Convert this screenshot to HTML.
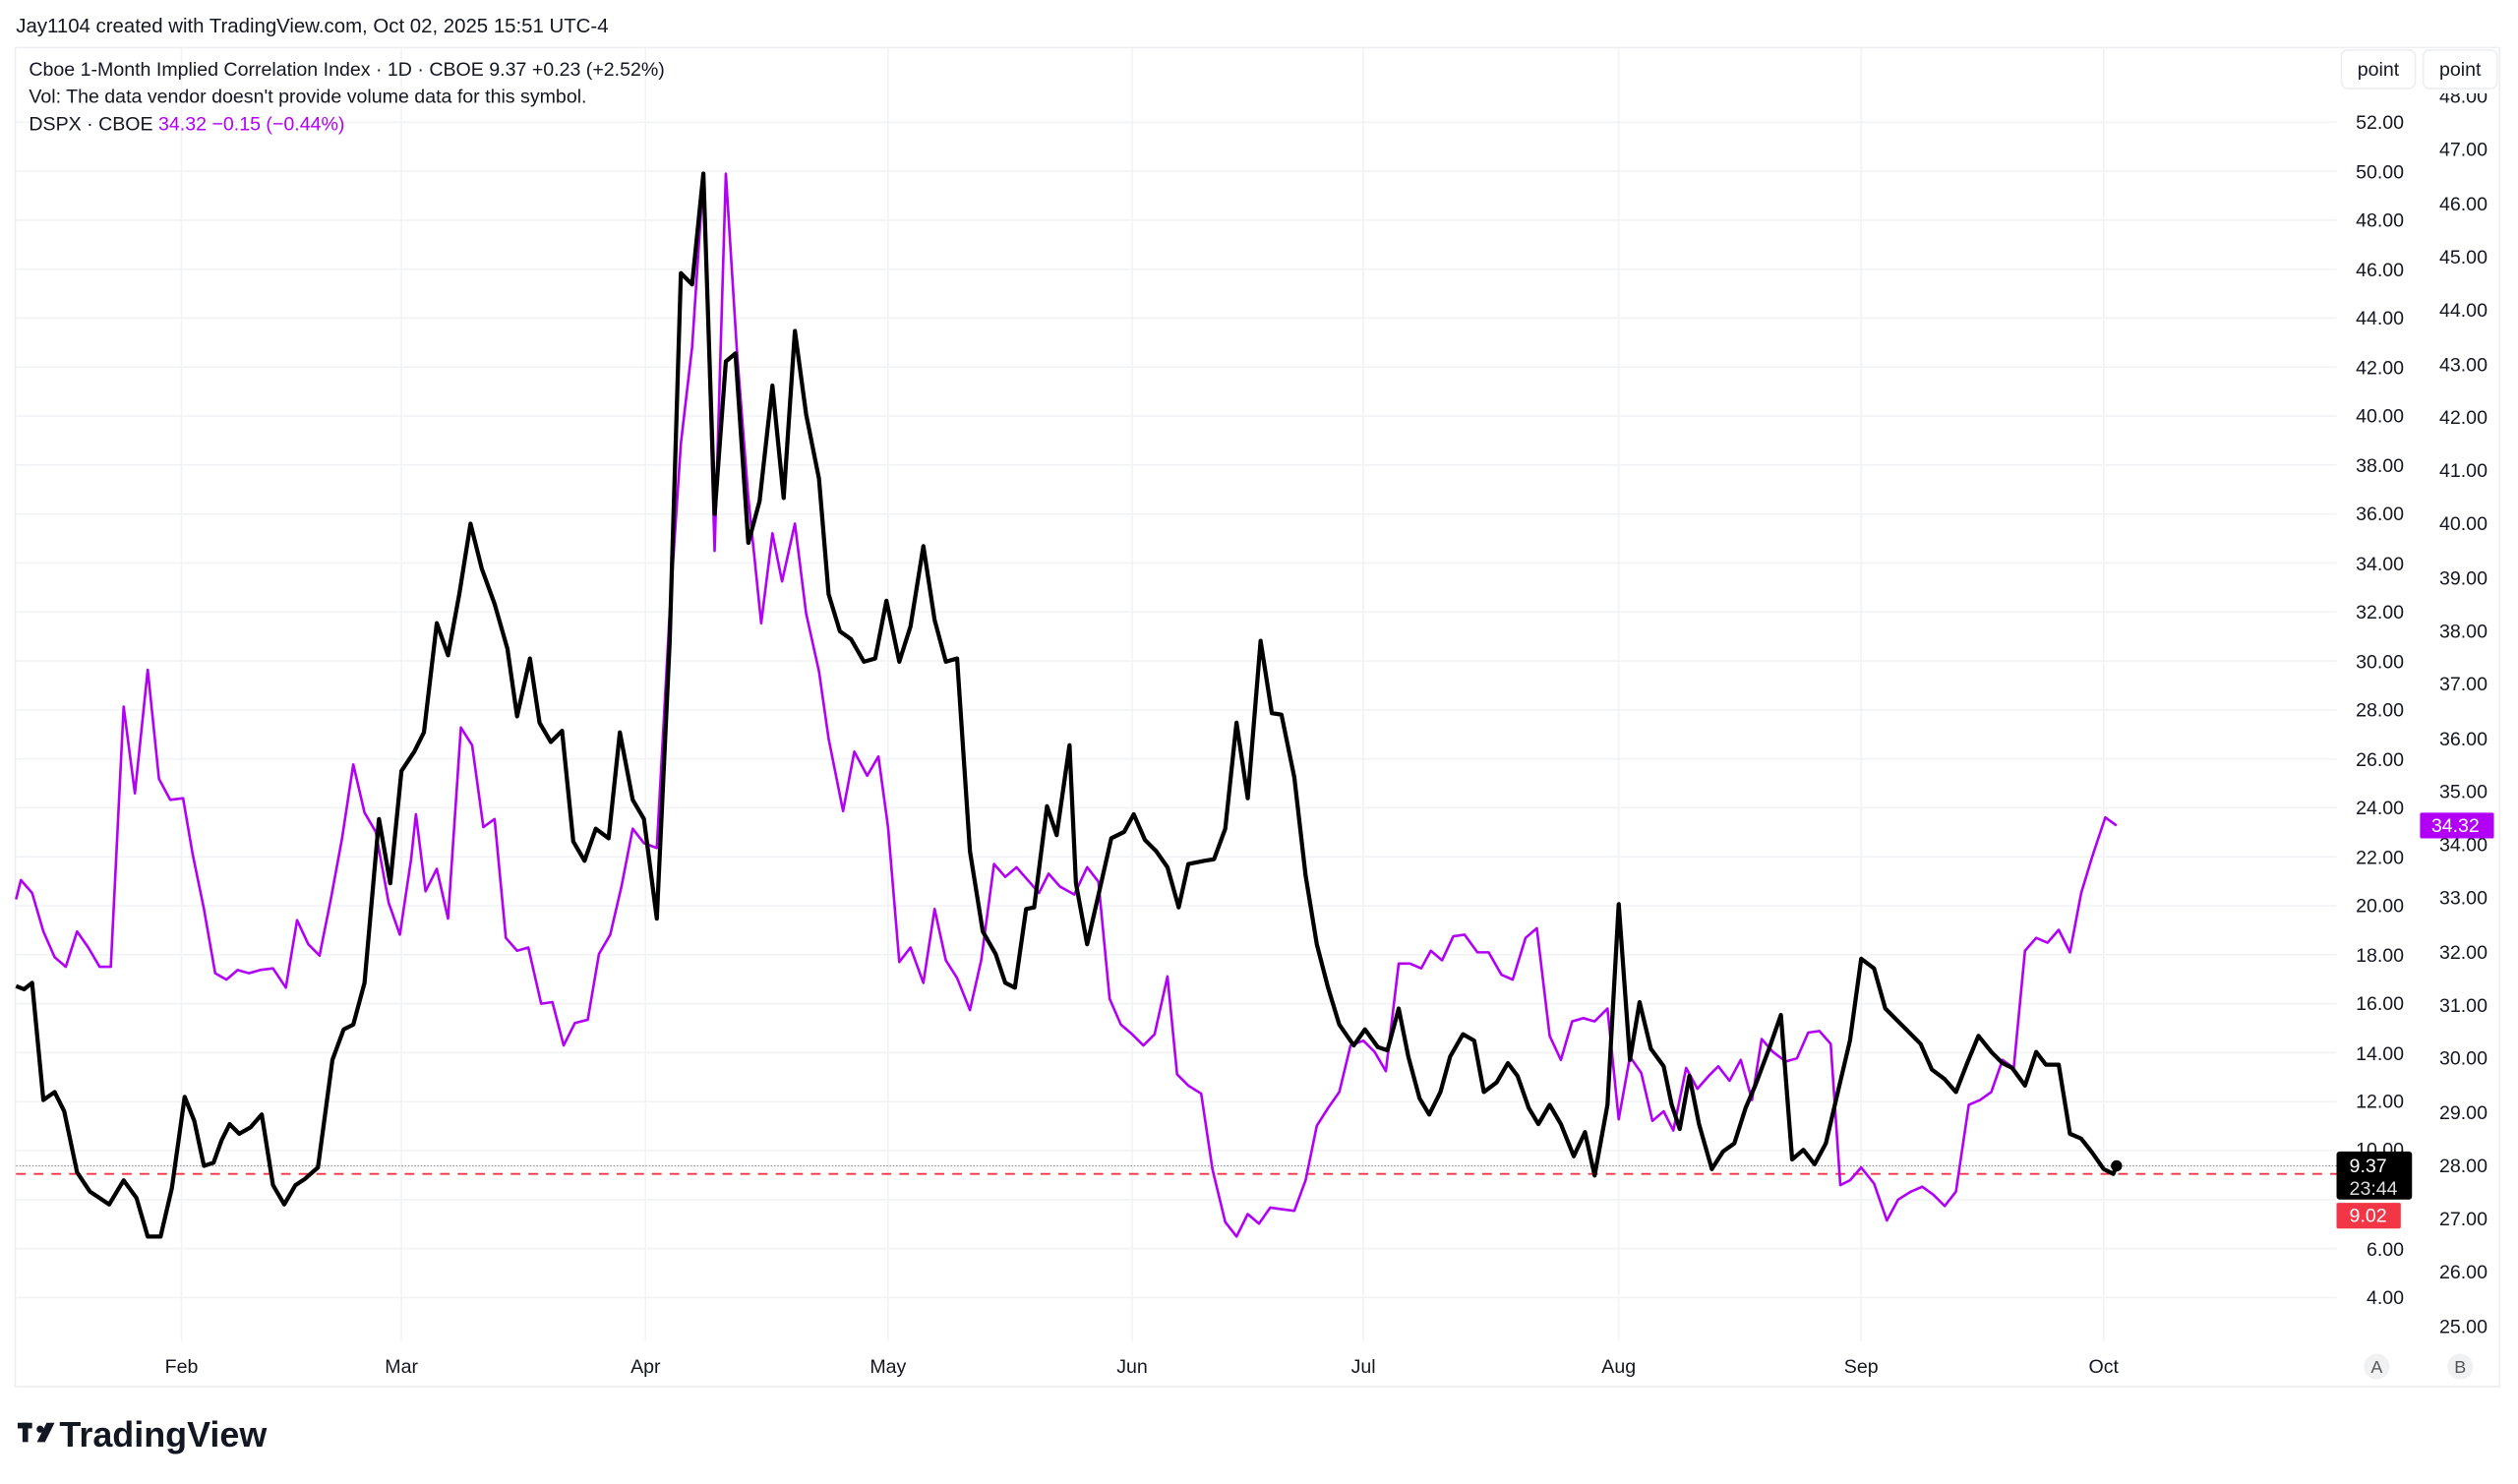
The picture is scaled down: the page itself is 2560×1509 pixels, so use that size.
<!DOCTYPE html>
<html><head><meta charset="utf-8"><style>
html,body{margin:0;padding:0;background:#fff;}
svg{display:block;font-family:"Liberation Sans",sans-serif;}
</style></head><body>
<svg width="2560" height="1509" viewBox="0 0 1568 924" xmlns="http://www.w3.org/2000/svg">
<rect width="1568" height="924" fill="#fff"/>
<text x="10" y="20" font-size="12.5" fill="#131722">Jay1104 created with TradingView.com, Oct 02, 2025 15:51 UTC-4</text>
<rect x="9.5" y="29.5" width="1547" height="834" fill="none" stroke="#eceef2"/>
<g stroke="#f2f3f5" stroke-width="1">
<line x1="10" x2="1455" y1="76" y2="76"/><line x1="10" x2="1455" y1="106.5" y2="106.5"/><line x1="10" x2="1455" y1="137" y2="137"/><line x1="10" x2="1455" y1="167.5" y2="167.5"/><line x1="10" x2="1455" y1="198" y2="198"/><line x1="10" x2="1455" y1="228.5" y2="228.5"/><line x1="10" x2="1455" y1="259" y2="259"/><line x1="10" x2="1455" y1="289.5" y2="289.5"/><line x1="10" x2="1455" y1="320" y2="320"/><line x1="10" x2="1455" y1="350.5" y2="350.5"/><line x1="10" x2="1455" y1="381" y2="381"/><line x1="10" x2="1455" y1="411.5" y2="411.5"/><line x1="10" x2="1455" y1="442" y2="442"/><line x1="10" x2="1455" y1="472.5" y2="472.5"/><line x1="10" x2="1455" y1="503" y2="503"/><line x1="10" x2="1455" y1="533.5" y2="533.5"/><line x1="10" x2="1455" y1="564" y2="564"/><line x1="10" x2="1455" y1="594.5" y2="594.5"/><line x1="10" x2="1455" y1="625" y2="625"/><line x1="10" x2="1455" y1="655.5" y2="655.5"/><line x1="10" x2="1455" y1="686" y2="686"/><line x1="10" x2="1455" y1="716.5" y2="716.5"/><line x1="10" x2="1455" y1="747" y2="747"/><line x1="10" x2="1455" y1="777.5" y2="777.5"/><line x1="10" x2="1455" y1="808" y2="808"/>
<line y1="30" y2="835" x1="113" x2="113"/><line y1="30" y2="835" x1="250" x2="250"/><line y1="30" y2="835" x1="402" x2="402"/><line y1="30" y2="835" x1="553" x2="553"/><line y1="30" y2="835" x1="705" x2="705"/><line y1="30" y2="835" x1="849" x2="849"/><line y1="30" y2="835" x1="1008" x2="1008"/><line y1="30" y2="835" x1="1159" x2="1159"/><line y1="30" y2="835" x1="1310" x2="1310"/>
</g>
<text x="18" y="47" font-size="12" fill="#131722">Cboe 1-Month Implied Correlation Index · 1D · CBOE  9.37  +0.23 (+2.52%)</text>
<text x="18" y="64" font-size="12" fill="#131722">Vol: The data vendor doesn't provide volume data for this symbol.</text>
<text x="18" y="81" font-size="12" fill="#131722">DSPX · CBOE  <tspan fill="#b100f5">34.32  −0.15 (−0.44%)</tspan></text>
<line x1="10" x2="1455" y1="726" y2="726" stroke="#9598a1" stroke-dasharray="1,1" stroke-width="0.8"/>
<line x1="10" x2="1455" y1="731" y2="731" stroke="#f23645" stroke-dasharray="6,5" stroke-width="1.2"/>
<polyline fill="none" stroke="#b100f5" stroke-width="1.6" stroke-linejoin="round" points="10,560 13,548 20,556 27,580 34,596 41,602 48,580 55,590 62,602 69,602 77,440 84,494 92,417 99,485 106,498 114,497 120,532 127,566 134,606 141,610 148,604 155,606 162,604 170,603 178,615 185,573 192,588 199,595 206,560 213,522 220,476 227,506 234,518 242,562 249,582 256,535 259,507 265,555 272,541 279,572 287,453 294,464 301,515 308,510 315,584 322,592 329,590 337,625 344,624 351,651 358,637 366,635 373,594 380,582 387,552 394,516 401,525 409,528 417,382 424,276 431,216 438,110 445,343 452,108 459,220 466,310 474,388 481,332 487,362 495,326 502,382 510,418 516,460 525,505 532,468 540,483 547,471 553,515 560,599 567,590 575,612 582,566 589,598 596,609 604,629 611,598 619,538 626,546 633,540 640,548 647,556 653,544 660,552 669,557 677,540 684,549 691,622 698,638 705,644 712,651 719,644 727,608 733,669 740,676 748,681 755,728 763,761 770,770 777,756 784,762 791,752 798,753 806,754 813,735 820,701 827,690 834,680 841,651 849,648 856,655 863,667 871,600 878,600 885,603 891,592 898,598 905,583 912,582 920,593 927,593 935,607 942,610 950,584 957,578 965,645 972,660 979,636 986,634 993,636 1001,628 1008,697 1015,658 1022,668 1029,698 1036,692 1042,704 1050,665 1057,678 1064,670 1070,664 1077,673 1084,660 1091,685 1097,647 1104,655 1112,661 1119,659 1126,643 1133,642 1140,650 1146,738 1152,735 1159,727 1167,737 1175,760 1182,747 1190,742 1197,739 1204,744 1211,751 1218,742 1226,688 1233,685 1240,680 1247,660 1254,665 1261,592 1268,584 1275,587 1282,579 1289,593 1296,556 1303,533 1311,509 1318,514"/>
<polyline fill="none" stroke="#000" stroke-width="2.6" stroke-linejoin="round" points="10,614 15,616 20,612 27,685 34,680 40,692 48,730 56,742 68,750 77,735 85,746 92,770 100,770 107,740 115,683 121,698 127,726 133,724 138,710 143,700 149,706 156,702 163,694 170,738 177,750 184,738 190,734 198,727 207,660 214,641 220,638 227,612 236,510 243,550 250,480 258,468 264,456 272,388 279,408 286,370 293,326 300,354 308,376 316,404 322,446 330,410 336,450 343,462 350,455 357,524 364,536 371,516 379,522 386,456 394,498 401,510 409,572 417,400 424,170 431,177 438,108 445,320 452,225 458,220 466,338 473,312 481,240 488,310 495,206 502,258 510,298 516,370 523,393 530,398 538,412 545,410 552,374 560,412 567,390 575,340 582,386 589,412 596,410 604,530 612,580 620,594 626,612 632,615 639,566 644,565 652,502 658,520 666,464 670,550 677,588 685,553 692,522 700,518 706,507 713,523 720,530 727,540 734,565 740,538 750,536 756,535 763,516 770,450 777,497 785,399 792,444 798,445 806,484 813,545 820,588 827,615 834,638 843,651 850,641 858,652 864,654 871,628 877,658 884,684 890,694 897,680 903,658 911,644 918,648 924,680 932,674 939,662 945,670 952,690 958,700 965,688 972,700 980,720 987,705 993,732 1001,688 1008,563 1015,660 1021,624 1028,653 1036,664 1041,688 1046,703 1052,670 1058,700 1066,728 1073,717 1080,712 1087,690 1093,676 1102,652 1109,632 1116,722 1123,716 1130,725 1137,712 1144,682 1152,648 1159,597 1167,603 1174,628 1182,636 1188,642 1196,650 1203,666 1211,672 1218,680 1225,662 1232,645 1240,655 1247,662 1253,665 1261,676 1268,655 1274,663 1282,663 1289,706 1296,709 1303,718 1310,728 1316,731 1318,726"/>
<circle cx="1318" cy="726" r="3.5" fill="#000"/>
<g font-size="12" fill="#131722" text-anchor="middle">
<text x="113" y="855">Feb</text><text x="250" y="855">Mar</text><text x="402" y="855">Apr</text><text x="553" y="855">May</text><text x="705" y="855">Jun</text><text x="849" y="855">Jul</text><text x="1008" y="855">Aug</text><text x="1159" y="855">Sep</text><text x="1310" y="855">Oct</text>
</g>
<g font-size="12" fill="#131722" text-anchor="end">
<text x="1497" y="80">52.00</text><text x="1497" y="111">50.00</text><text x="1497" y="141">48.00</text><text x="1497" y="172">46.00</text><text x="1497" y="202">44.00</text><text x="1497" y="233">42.00</text><text x="1497" y="263">40.00</text><text x="1497" y="294">38.00</text><text x="1497" y="324">36.00</text><text x="1497" y="355">34.00</text><text x="1497" y="385">32.00</text><text x="1497" y="416">30.00</text><text x="1497" y="446">28.00</text><text x="1497" y="477">26.00</text><text x="1497" y="507">24.00</text><text x="1497" y="538">22.00</text><text x="1497" y="568">20.00</text><text x="1497" y="599">18.00</text><text x="1497" y="629">16.00</text><text x="1497" y="660">14.00</text><text x="1497" y="690">12.00</text><text x="1497" y="720">10.00</text><text x="1497" y="782">6.00</text><text x="1497" y="812">4.00</text>
<text x="1549" y="64">48.00</text><text x="1549" y="97">47.00</text><text x="1549" y="131">46.00</text><text x="1549" y="164">45.00</text><text x="1549" y="197">44.00</text><text x="1549" y="231">43.00</text><text x="1549" y="264">42.00</text><text x="1549" y="297">41.00</text><text x="1549" y="330">40.00</text><text x="1549" y="364">39.00</text><text x="1549" y="397">38.00</text><text x="1549" y="430">37.00</text><text x="1549" y="464">36.00</text><text x="1549" y="497">35.00</text><text x="1549" y="530">34.00</text><text x="1549" y="563">33.00</text><text x="1549" y="597">32.00</text><text x="1549" y="630">31.00</text><text x="1549" y="663">30.00</text><text x="1549" y="697">29.00</text><text x="1549" y="730">28.00</text><text x="1549" y="763">27.00</text><text x="1549" y="796">26.00</text><text x="1549" y="830">25.00</text>
</g>
<rect x="1456" y="30" width="100" height="28" fill="#fff"/>
<rect x="1458" y="31" width="46" height="24" rx="4" fill="#fff" stroke="#eceef2"/>
<rect x="1509" y="31" width="46" height="24" rx="4" fill="#fff" stroke="#eceef2"/>
<text x="1481" y="47" font-size="12" fill="#131722" text-anchor="middle">point</text>
<text x="1532" y="47" font-size="12" fill="#131722" text-anchor="middle">point</text>
<rect x="1455" y="717" width="47" height="30" rx="2" fill="#000"/>
<text x="1463" y="730" font-size="12" fill="#fff">9.37</text>
<text x="1463" y="744" font-size="12" fill="#ddd">23:44</text>
<rect x="1455" y="749" width="40" height="16" rx="1" fill="#f23645"/>
<text x="1463" y="761" font-size="12" fill="#fff">9.02</text>
<rect x="1507" y="506" width="46" height="16" rx="1" fill="#b100f5"/>
<text x="1514" y="518" font-size="12" fill="#fff">34.32</text>
<circle cx="1480" cy="851" r="8" fill="#f0f1f3"/><text x="1480" y="855" font-size="11" fill="#555" text-anchor="middle">A</text>
<circle cx="1532" cy="851" r="8" fill="#f0f1f3"/><text x="1532" y="855" font-size="11" fill="#555" text-anchor="middle">B</text>
<g fill="#131722"><rect x="11" y="886" width="9" height="3.5"/><rect x="14" y="886" width="3.5" height="12"/><circle cx="25" cy="890" r="2.2"/><polygon points="29,886 34,886 28,898 23,898"/></g>
<text x="37" y="901" font-size="22" font-weight="bold" fill="#131722">TradingView</text>
</svg>
</body></html>
